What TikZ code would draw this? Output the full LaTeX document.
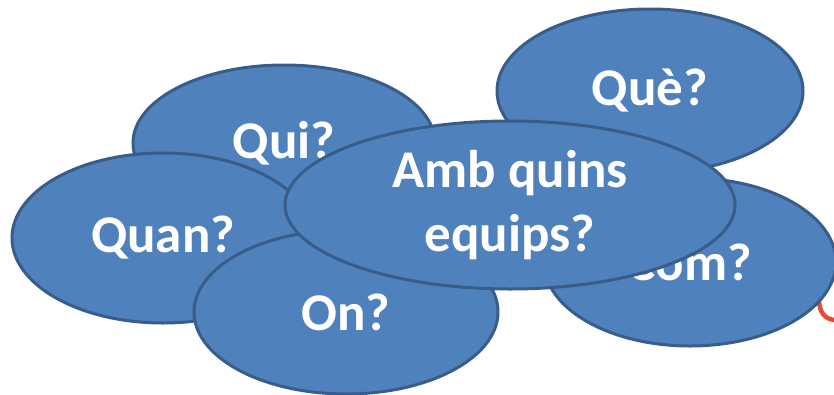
\documentclass[tikz,border=0pt]{standalone}
\usepackage{fontspec}
\setmainfont{Carlito}
\usetikzlibrary{shapes.geometric}

\definecolor{bubblefill}{HTML}{4F81BD}
\definecolor{bubbleline}{HTML}{385D8A}
\definecolor{markred}{HTML}{E8483A}

\tikzset{
  bubble/.style={ellipse, draw=bubbleline, fill=bubblefill, line width=3pt,
    inner sep=0pt, text=white, align=center,
    font=\bfseries\fontsize{53}{64}\selectfont}
}

\begin{document}
\begin{tikzpicture}[x=1pt,y=-1pt]
\useasboundingbox (0,0) rectangle (834,394);

\coordinate (m1) at (819,300);
\coordinate (m2) at (836,320);
\draw[markred, line width=4.5pt] (m1) .. controls (819,313) and (826,320) .. (m2);

\node[bubble, minimum width=302pt, minimum height=156pt] (qui) at (284,143) {Qui?};
\node[bubble, minimum width=306pt, minimum height=164pt] (que) at (650,91) {Què?};
\node[bubble, minimum width=292pt, minimum height=168pt] (com) at (690,262) {Com?};
\node[bubble, minimum width=302pt, minimum height=170pt] (quan) at (163,238) {Quan?};
\node[bubble, minimum width=304pt, minimum height=164pt] (on) at (346,312) {On?};
\node[bubble, minimum width=450pt, minimum height=168pt] (amb) at (510,205) {Amb quins\\equips?};
\end{tikzpicture}
\end{document}
